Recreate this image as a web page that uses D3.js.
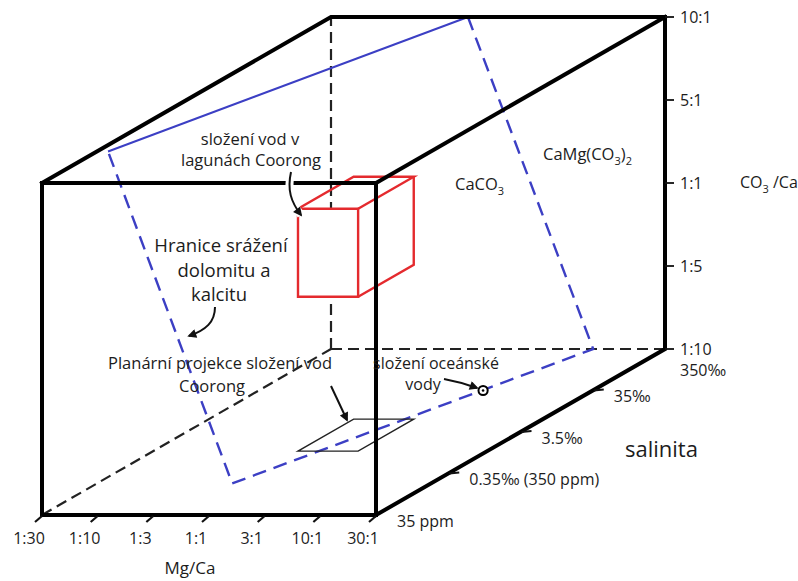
<!DOCTYPE html>
<html>
<head>
<meta charset="utf-8">
<script src="https://cdn.jsdelivr.net/npm/d3@7"></script>
<style>
  html, body { margin: 0; padding: 0; background: #fff; }
  svg { display: block; font-family: "Open Sans", "Noto Sans", sans-serif; }
</style>
</head>
<body>
<svg id="chart" width="798" height="581"></svg>
<script>
// Axis tick labels (evenly spaced along each edge of the box)
const mgCaTicks  = ["1:30", "1:10", "1:3", "1:1", "3:1", "10:1", "30:1"];
const co3CaTicks = ["1:10", "1:5", "1:1", "5:1", "10:1"];
const salTicks   = ["35 ppm", "0.35‰ (350 ppm)", "3.5‰", "35‰", "350‰"];

// Positions are given in tick units along each axis:
// mg = Mg/Ca tick index, co3 = CO3/Ca tick index, sal = salinity tick index.

// Dolomite / calcite precipitation boundary (plane through the box)
const boundaryPlane = [
  { mg: 0.20, co3: 4, sal: 0.76 },
  { mg: 2.46, co3: 4, sal: 4 },
  { mg: 4.71, co3: 0, sal: 4 },
  { mg: 2.43, co3: 0, sal: 0.76 }
];

// Range of Coorong lagoon water compositions (box)
const coorongMg  = [2.60, 3.68];
const coorongCo3 = [1.86, 2.92];
const coorongSal = [1.54, 2.31];

// Ocean water composition
const oceanWater = { mg: 4.03, co3: 0, sal: 3 };

// ---------------------------------------------------------------
const svg = d3.select("#chart");
const ink = "#1c1c1c";

const origin = { x: 42, y: 515 };   // front-bottom-left corner
const frontW = 334, frontH = 332;   // front face size
const depth  = { x: 289, y: -166 }; // oblique depth vector

const xMg  = d3.scaleLinear().domain([0, mgCaTicks.length - 1]).range([0, frontW]);
const yCo3 = d3.scaleLinear().domain([0, co3CaTicks.length - 1]).range([0, frontH]);
const zSal = d3.scaleLinear().domain([0, salTicks.length - 1]).range([0, 1]);

function proj(mg, co3, sal) {
  const w = zSal(sal);
  return [origin.x + xMg(mg) + w * depth.x, origin.y - yCo3(co3) + w * depth.y];
}

const MG0 = 0, MG1 = mgCaTicks.length - 1;
const C0 = 0, C1 = co3CaTicks.length - 1;
const S0 = 0, S1 = salTicks.length - 1;

const line = d3.line();

const defs = svg.append("defs");
defs.append("marker")
  .attr("id", "arrowHead")
  .attr("viewBox", "0 0 10 10")
  .attr("refX", 8).attr("refY", 5)
  .attr("markerWidth", 11).attr("markerHeight", 9)
  .attr("markerUnits", "userSpaceOnUse")
  .attr("orient", "auto")
  .append("path").attr("d", "M0,0 L10,5 L0,10 Z").attr("fill", "#111");

// --- hidden box edges (dashed) ---
const hidden = [
  [proj(MG0, C0, S0), proj(MG0, C0, S1)],
  [proj(MG0, C0, S1), proj(MG0, C1, S1)],
  [proj(MG0, C0, S1), proj(MG1, C0, S1)]
];
svg.append("g").selectAll("path").data(hidden).join("path")
  .attr("d", d => line(d))
  .attr("fill", "none").attr("stroke", "#222")
  .attr("stroke-width", 2.2).attr("stroke-dasharray", "11,6");

// --- boundary plane ---
const bp = boundaryPlane.map(p => proj(p.mg, p.co3, p.sal));
const blue = "#3c3fc4";
svg.append("path").attr("d", line([bp[0], bp[1]]))
  .attr("fill", "none").attr("stroke", blue).attr("stroke-width", 2);
svg.append("path").attr("d", line([bp[1], bp[2], bp[3], bp[0]]))
  .attr("fill", "none").attr("stroke", blue).attr("stroke-width", 2.4)
  .attr("stroke-dasharray", "14,8").attr("stroke-linejoin", "miter");

// --- planar projection of Coorong waters on the bottom face ---
const pp = [
  proj(coorongMg[0], C0, coorongSal[0]),
  proj(coorongMg[1], C0, coorongSal[0]),
  proj(coorongMg[1], C0, coorongSal[1]),
  proj(coorongMg[0], C0, coorongSal[1])
];
svg.append("path").attr("d", line(pp) + "Z")
  .attr("fill", "none").attr("stroke", "#222").attr("stroke-width", 1.4);

// --- Coorong box (red) ---
const red = "#e42a2e";
const cf = [
  proj(coorongMg[0], coorongCo3[0], coorongSal[0]),
  proj(coorongMg[1], coorongCo3[0], coorongSal[0]),
  proj(coorongMg[1], coorongCo3[1], coorongSal[0]),
  proj(coorongMg[0], coorongCo3[1], coorongSal[0])
];
const cbTL = proj(coorongMg[0], coorongCo3[1], coorongSal[1]);
const cbTR = proj(coorongMg[1], coorongCo3[1], coorongSal[1]);
const cbBR = proj(coorongMg[1], coorongCo3[0], coorongSal[1]);
const redG = svg.append("g").attr("fill", "none").attr("stroke", red)
  .attr("stroke-width", 2.4).attr("stroke-linejoin", "miter");
redG.append("path").attr("d", line(cf) + "Z").attr("fill", "#fff");
redG.append("path").attr("d", line([cf[3], cbTL, cbTR, cf[2]]));
redG.append("path").attr("d", line([cbTR, cbBR, cf[1]]));

// --- visible box edges ---
const visible = [
  [proj(MG0, C0, S0), proj(MG1, C0, S0), proj(MG1, C1, S0), proj(MG0, C1, S0), proj(MG0, C0, S0)],
  [proj(MG0, C1, S0), proj(MG0, C1, S1), proj(MG1, C1, S1), proj(MG1, C0, S1), proj(MG1, C0, S0)],
  [proj(MG1, C1, S0), proj(MG1, C1, S1)]
];
svg.append("g").selectAll("path").data(visible).join("path")
  .attr("d", d => line(d))
  .attr("fill", "none").attr("stroke", "#000")
  .attr("stroke-width", 4).attr("stroke-linejoin", "miter").attr("stroke-linecap", "square");

// --- Mg/Ca axis (front bottom edge) ---
const mgG = svg.append("g");
mgCaTicks.forEach((t, i) => {
  const [x, y] = proj(i, C0, S0);
  mgG.append("line").attr("x1", x).attr("y1", y + 1).attr("x2", x - 7).attr("y2", y + 7)
    .attr("stroke", "#111").attr("stroke-width", 2.2);
  mgG.append("text").attr("x", x - 13).attr("y", y + 23)
    .attr("dy", "0.35em").attr("text-anchor", "middle")
    .attr("font-size", 16).attr("fill", ink).text(t);
});
svg.append("text").attr("x", 190).attr("y", 568).attr("dy", "0.35em")
  .attr("text-anchor", "middle").attr("font-size", 17).attr("fill", ink).text("Mg/Ca");

// --- CO3/Ca axis (back right edge) ---
const coG = svg.append("g");
co3CaTicks.forEach((t, i) => {
  const [x, y] = proj(MG1, i, S1);
  coG.append("line").attr("x1", x).attr("y1", y).attr("x2", x + 9).attr("y2", y)
    .attr("stroke", "#111").attr("stroke-width", 1.8);
  coG.append("text").attr("x", x + 15).attr("y", y).attr("dy", "0.35em")
    .attr("font-size", 16).attr("fill", ink).text(t);
});
const coLbl = svg.append("text").attr("x", 740).attr("y", 182).attr("dy", "0.35em")
  .attr("font-size", 16).attr("fill", ink);
coLbl.append("tspan").text("CO");
coLbl.append("tspan").attr("font-size", 11).attr("dy", 5).text("3");
coLbl.append("tspan").attr("dy", -5).text(" /Ca");

// --- salinity axis (bottom right depth edge) ---
const salG = svg.append("g");
salTicks.forEach((t, i) => {
  const [x, y] = proj(MG1, C0, i);
  if (i > 0 && i < salTicks.length - 1) {
    salG.append("line").attr("x1", x + 1).attr("y1", y).attr("x2", x + 11).attr("y2", y - 1)
      .attr("stroke", "#111").attr("stroke-width", 1.8);
  }
  const last = i === salTicks.length - 1;
  salG.append("text")
    .attr("x", last ? x + 15 : x + 21)
    .attr("y", last ? y + 21 : y + 6)
    .attr("dy", "0.35em").attr("font-size", 16).attr("fill", ink).text(t);
});
svg.append("text").attr("x", 625).attr("y", 449).attr("dy", "0.35em")
  .attr("font-size", 22).attr("fill", ink).text("salinita");

// --- ocean water marker ---
const [ox, oy] = proj(oceanWater.mg, oceanWater.co3, oceanWater.sal);
svg.append("circle").attr("cx", ox).attr("cy", oy).attr("r", 4.6)
  .attr("fill", "#fff").attr("stroke", "#000").attr("stroke-width", 2);
svg.append("circle").attr("cx", ox).attr("cy", oy).attr("r", 1.3).attr("fill", "#000");

// --- mineral field labels ---
const caco3 = svg.append("text").attr("x", 455).attr("y", 184).attr("dy", "0.35em")
  .attr("font-size", 16.5).attr("fill", ink);
caco3.append("tspan").text("CaCO");
caco3.append("tspan").attr("font-size", 11).attr("dy", 5).text("3");

const dol = svg.append("text").attr("x", 543).attr("y", 154).attr("dy", "0.35em")
  .attr("font-size", 16.5).attr("fill", ink);
dol.append("tspan").text("CaMg(CO");
dol.append("tspan").attr("font-size", 11).attr("dy", 5).text("3");
dol.append("tspan").attr("dy", -5).text(")");
dol.append("tspan").attr("font-size", 11).attr("dy", 5).text("2");

// --- annotations ---
function label(lines, size) {
  lines.forEach(l => {
    svg.append("text").attr("x", l[1]).attr("y", l[2]).attr("dy", "0.35em")
      .attr("text-anchor", "middle").attr("font-size", size).attr("fill", ink).text(l[0]);
  });
}
label([["složení vod v", 250, 139], ["lagunách Coorong", 251, 160]], 16.5);
label([["Hranice srážení", 221, 246], ["dolomitu a", 224, 271], ["kalcitu", 219, 295]], 18.5);
label([["Planární projekce složení vod", 220, 363], ["Coorong", 212, 386]], 16.5);
label([["složení oceánské", 436, 363], ["vody", 423, 384]], 16);

const arrows = [
  { d: "M291,172 C287,190 291,202 301,215", halo: true },
  { d: "M215,307 C215,322 206,330 189,336", halo: false },
  { d: "M331,386 L347,420", halo: false },
  { d: "M444,379 C455,381 466,384 477,388", halo: false }
];
arrows.forEach(a => {
  if (a.halo) {
    svg.append("path").attr("d", a.d).attr("fill", "none")
      .attr("stroke", "#fff").attr("stroke-width", 8);
  }
  svg.append("path").attr("d", a.d).attr("fill", "none")
    .attr("stroke", "#111").attr("stroke-width", 2)
    .attr("marker-end", "url(#arrowHead)");
});
</script>
</body>
</html>
